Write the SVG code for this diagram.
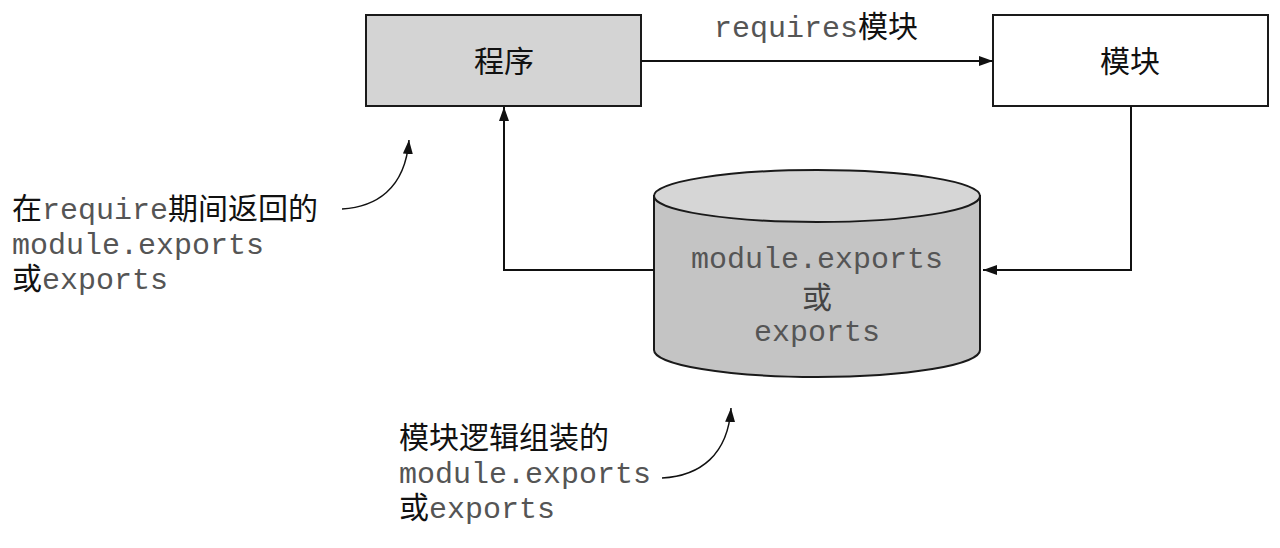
<svg xmlns="http://www.w3.org/2000/svg" width="1280" height="548" viewBox="0 0 1280 548">
<defs>
<style>
.box{stroke:#1a1a1a;stroke-width:2}
.cjk{font-family:"Noto Sans CJK SC","Noto Sans CJK JP",sans-serif;font-size:30px;fill:#111}
.mono{font-family:"Liberation Mono","Courier New",monospace;font-size:30px;fill:#555}
.conn{fill:none;stroke:#111;stroke-width:2}
.curve{fill:none;stroke:#111;stroke-width:1.5}
</style>
<marker id="ah" viewBox="0 0 14 10" refX="14" refY="5" markerWidth="14" markerHeight="10" markerUnits="userSpaceOnUse" orient="auto">
<path d="M0,0 L14,5 L0,10 z" fill="#111"/>
</marker>
</defs>
<rect width="1280" height="548" fill="#fff"/>
<g id="program">
<rect class="box" x="366" y="15" width="275" height="91" fill="#d4d4d4"/>
<text class="cjk" x="504" y="72" text-anchor="middle">程序</text>
</g>
<g id="module">
<rect class="box" x="993" y="15" width="275" height="91" fill="#fff"/>
<text class="cjk" x="1130" y="72" text-anchor="middle">模块</text>
</g>
<g id="exports-store">
<path class="box" d="M654,196 L654,350 A163,27 0 0 0 980,350 L980,196 Z" fill="#c4c4c4"/>
<ellipse class="box" cx="817" cy="196" rx="163" ry="26" fill="#d6d6d6"/>
<text class="mono" x="817" y="268" text-anchor="middle">module.exports</text>
<text class="cjk" x="817" y="308" text-anchor="middle" style="fill:#444">或</text>
<text class="mono" x="817" y="341" text-anchor="middle">exports</text>
</g>
<g id="label-require">
<text x="12" y="219"><tspan class="cjk">在</tspan><tspan class="mono">require</tspan><tspan class="cjk">期间返回的</tspan></text>
<text class="mono" x="12" y="254">module.exports</text>
<text x="12" y="289"><tspan class="cjk">或</tspan><tspan class="mono">exports</tspan></text>
</g>
<g id="label-assembled">
<text class="cjk" x="399" y="448">模块逻辑组装的</text>
<text class="mono" x="399" y="483">module.exports</text>
<text x="399" y="518"><tspan class="cjk">或</tspan><tspan class="mono">exports</tspan></text>
</g>
<g id="label-requires">
<text x="714" y="37"><tspan class="mono">requires</tspan><tspan class="cjk">模块</tspan></text>
</g>
<g id="connectors">
<line class="conn" x1="641" y1="61" x2="993" y2="61" marker-end="url(#ah)"/>
<polyline class="conn" points="1131,106 1131,270 983,270" marker-end="url(#ah)"/>
<polyline class="conn" points="654,270 504,270 504,107" marker-end="url(#ah)"/>
<path class="curve" d="M342,209 C375,207 405,190 409,140" marker-end="url(#ah)"/>
<path class="curve" d="M662,478 C700,476 728,455 731,408" marker-end="url(#ah)"/>
</g>
</svg>
